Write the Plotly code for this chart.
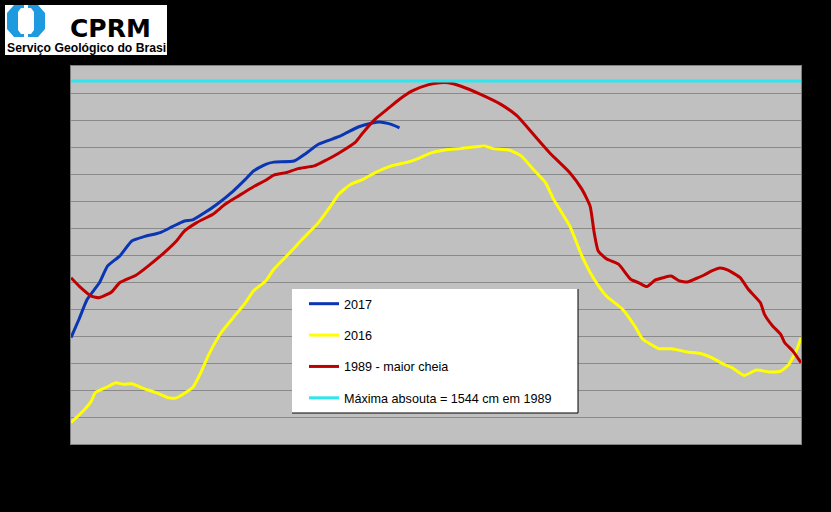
import plotly.graph_objects as go

# ---------------- data (day index along the hydrological period, level in cm) -------------
days_2017 = [0, 2, 4, 7, 9, 12, 15, 18, 22, 25, 28, 30, 33, 36, 40, 43, 45, 48, 50, 55,
             58, 61, 66, 68, 71, 74, 76, 79, 81]
level_2017 = [594, 663, 736, 797, 859, 896, 952, 968, 983, 1005, 1026, 1030, 1057, 1088,
              1137, 1180, 1211, 1236, 1244, 1248, 1277, 1310, 1338, 1353, 1375, 1388,
              1393, 1384, 1371]

days_2016 = [0, 3, 5, 6, 9, 11, 13, 15, 18, 21, 24, 26, 28, 30, 32, 34, 37, 40, 43, 45,
             48, 50, 54, 57, 61, 64, 66, 69, 72, 75, 79, 83, 86, 89, 93, 96, 102, 104,
             108, 111, 114, 117, 119, 123, 126, 129, 132, 136, 139, 141, 143, 145, 148,
             152, 155, 158, 161, 163, 166, 169, 172, 175, 177, 179, 180]
level_2016 = [279, 322, 359, 390, 412, 427, 421, 423, 405, 390, 371, 371, 388, 409, 464,
              532, 612, 668, 723, 767, 804, 847, 909, 958, 1020, 1081, 1125, 1162, 1180,
              1205, 1230, 1244, 1260, 1279, 1291, 1294, 1304, 1294, 1289, 1267, 1217,
              1168, 1106, 1007, 896, 810, 748, 699, 637, 588, 569, 553, 553, 541, 536,
              520, 495, 483, 454, 474, 467, 470, 495, 551, 594]

days_1989 = [0, 2, 5, 7, 10, 12, 16, 19, 23, 26, 28, 31, 35, 38, 41, 45, 48, 50, 53, 56,
             60, 63, 66, 70, 72, 75, 78, 81, 84, 88, 91, 93, 96, 101, 106, 110, 114, 118,
             123, 126, 128, 129, 130, 132, 135, 138, 140, 142, 144, 146, 148, 150, 152,
             154, 156, 158, 160, 162, 165, 167, 170, 171, 173, 175, 176, 178, 180]
level_1989 = [816, 785, 748, 742, 763, 797, 825, 859, 909, 952, 989, 1020, 1051, 1088,
              1116, 1153, 1177, 1196, 1205, 1220, 1230, 1252, 1277, 1316, 1353, 1403,
              1440, 1477, 1507, 1530, 1538, 1538, 1526, 1495, 1458, 1415, 1347, 1279,
              1205, 1143, 1081, 983, 915, 886, 866, 810, 797, 783, 807, 816, 822, 804,
              800, 812, 825, 841, 852, 844, 816, 773, 723, 680, 637, 606, 575, 544, 501]

max_level = 1544
max_days = [0, 180]

series_names = ["2017", "2016", "1989 - maior cheia", "Máxima absouta = 1544 cm em 1989"]
series_colors = ["#0A36B4", "#FFFF00", "#C00000", "#2EE6EE"]

y_range = [200, 1600]
x_range = [0, 180]

# ---------------- layout constants (pixels) ----------------
W, H = 831, 512
ML, MR, MT, MB = 71, 30, 66, 68
PW, PH = W - ML - MR, H - MT - MB


def px(x):
    return (x - ML) / PW


def py(y):
    return (H - MB - y) / PH


fig = go.Figure()
series = [(days_2017, level_2017), (days_2016, level_2016), (days_1989, level_1989),
          (max_days, [max_level] * len(max_days))]
for i, ((xs, ys), name, col) in enumerate(zip(series, series_names, series_colors)):
    fig.add_trace(go.Scatter(x=xs, y=ys, mode="lines", name=name, legendgroup=str(i),
                             line=dict(color=col, width=3, shape="spline", smoothing=0.5)))

shapes = []
# legend box
shapes.append(dict(type="rect", xref="paper", yref="paper", x0=px(292), x1=px(578),
                   y0=py(413), y1=py(289), fillcolor="white", line=dict(width=0),
                   layer="above"))
shapes.append(dict(type="line", xref="paper", yref="paper", x0=px(578), x1=px(578),
                   y0=py(413), y1=py(289), line=dict(color="black", width=1), layer="above"))
shapes.append(dict(type="line", xref="paper", yref="paper", x0=px(292), x1=px(578),
                   y0=py(413), y1=py(413), line=dict(color="black", width=1), layer="above"))

# logo background
shapes.append(dict(type="rect", xref="paper", yref="paper", x0=px(5), x1=px(167),
                   y0=py(55), y1=py(5), fillcolor="white", line=dict(width=0)))


def path(points):
    return "M " + " L ".join(f"{px(a):.5f},{py(b):.5f}" for a, b in points) + " Z"


shapes.append(dict(type="path", xref="paper", yref="paper",
                   path=path([(14, 5), (38, 5), (45, 13), (45, 29), (38, 37), (14, 37),
                              (7, 29), (7, 13)]),
                   fillcolor="#1E9BE0", line=dict(width=0)))
shapes.append(dict(type="path", xref="paper", yref="paper",
                   path=path([(21, 8), (31, 8), (34, 12), (34, 30), (31, 34), (21, 34),
                              (18, 30), (18, 12)]),
                   fillcolor="white", line=dict(width=0)))
shapes.append(dict(type="rect", xref="paper", yref="paper", x0=px(24), x1=px(28),
                   y0=py(9), y1=py(5), fillcolor="white", line=dict(width=0)))
shapes.append(dict(type="rect", xref="paper", yref="paper", x0=px(24), x1=px(28),
                   y0=py(37), y1=py(33), fillcolor="white", line=dict(width=0)))

annotations = [
    dict(text="<b>CPRM</b>", xref="paper", yref="paper", x=px(110), y=py(28),
         xanchor="center", yanchor="middle", showarrow=False,
         font=dict(family="DejaVu Sans", size=25, color="black")),
    dict(text="<b>Serviço Geológico do Brasil</b>", xref="paper", yref="paper",
         x=px(5), y=py(47.5), xanchor="left", yanchor="middle", showarrow=False,
         font=dict(family="Liberation Sans", size=12.2, color="black")),
]

fig.update_layout(
    width=W, height=H,
    margin=dict(l=ML, r=MR, t=MT, b=MB),
    paper_bgcolor="black", plot_bgcolor="#C0C0C0",
    shapes=shapes, annotations=annotations,
    showlegend=True,
    legend=dict(x=px(304), y=py(289), xanchor="left", yanchor="top",
                bgcolor="rgba(0,0,0,0)", borderwidth=0, tracegroupgap=12,
                font=dict(family="Liberation Sans, Arial, sans-serif", size=12.6, color="black")),
    xaxis=dict(range=x_range, showgrid=False, zeroline=False, showticklabels=False,
               showline=True, linecolor="#808080", mirror=True, ticks=""),
    yaxis=dict(range=y_range, dtick=100, showgrid=True, gridcolor="#8A8A8A", gridwidth=1,
               zeroline=False, showticklabels=False, showline=True, linecolor="#808080",
               mirror=True, ticks=""),
)

fig.write_html("out.html", config={"displayModeBar": False},
               post_script="document.body.style.margin='0';")
